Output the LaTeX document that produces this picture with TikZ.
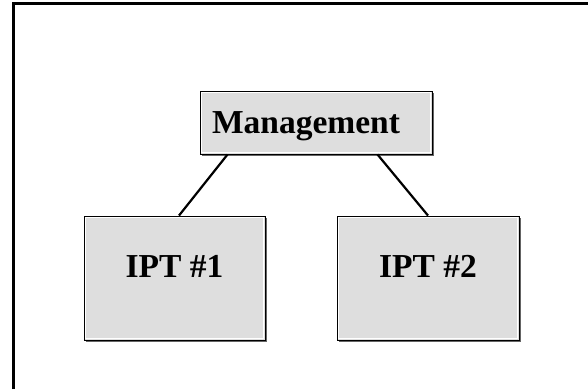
\documentclass[tikz,border=0pt]{standalone}
\usepackage{fontspec}
\setmainfont{Liberation Serif}
\usetikzlibrary{calc,shadows}

\begin{document}
\begin{tikzpicture}[x=1pt,y=-1pt,font=\bfseries\fontsize{33.5}{40}\selectfont,
  unit/.style={draw=black, line width=0.9pt, fill=boxfill, inner sep=0pt, text height=22pt,
    drop shadow={shadow xshift=1.5pt, shadow yshift=-1.5pt, fill=edge, opacity=1},
    path picture={\draw[white, line width=0.8pt]
      ([shift={(1.4pt,-1.4pt)}]path picture bounding box.north west) rectangle
      ([shift={(-1.4pt,1.4pt)}]path picture bounding box.south east);}},
  link/.style={black, line width=2.2pt}]
  \definecolor{boxfill}{RGB}{222,222,222}
  \definecolor{edge}{RGB}{100,100,100}

  \useasboundingbox (0,0) rectangle (588,389);

  % frame (only top and left show)
  \draw[line width=3.5pt] (13.5,389) -- (13.5,3.5) -- (588,3.5);

  \node[unit, minimum width=232pt, minimum height=63pt, text width=208pt, align=left,
    text depth=0pt] (mgmt) at (316,122.5) {Management};
  \node[unit, minimum width=181pt, minimum height=124pt, text depth=24pt] (ipt1) at (174.5,278) {IPT \#1};
  \node[unit, minimum width=182pt, minimum height=124pt, text depth=24pt] (ipt2) at (428,278) {IPT \#2};

  \draw[link] ($(mgmt.south west)+(28,0)$) -- ($(ipt1.north)+(4.5,0)$);
  \draw[link] ($(mgmt.south east)+(-55,0)$) -- (ipt2.north);
\end{tikzpicture}
\end{document}
